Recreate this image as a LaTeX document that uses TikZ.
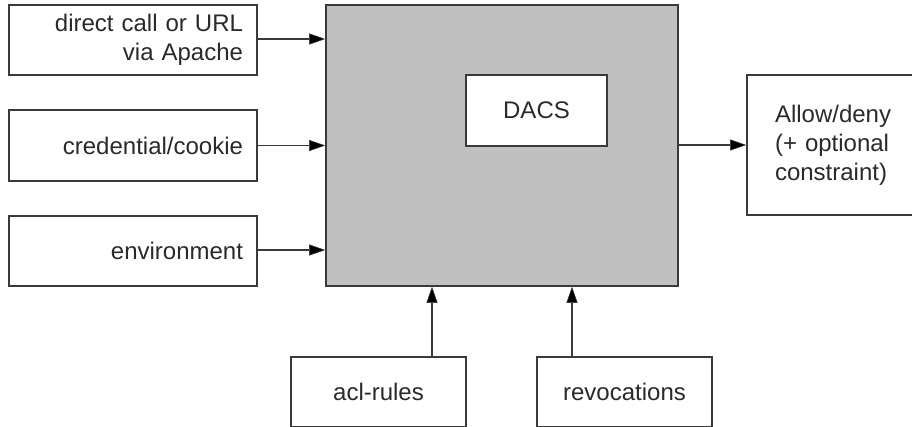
\documentclass[tikz,border=0pt]{standalone}
\usepackage{fontspec}
\setmainfont{Liberation Sans}
\usetikzlibrary{arrows.meta}
\definecolor{ink}{HTML}{2A2A2A}
\definecolor{edge}{HTML}{3A3A3A}
\definecolor{core}{HTML}{C0C0C0}
\begin{document}
\begin{tikzpicture}[x=1pt,y=-1pt,
  every node/.style={font=\fontsize{24}{29}\selectfont, text=ink},
  box/.style={draw=edge, line width=1.6pt, fill=white, inner sep=0pt, minimum height=70pt},
  rbox/.style={box, align=right, text width=220pt, inner xsep=14pt},
  arr/.style={draw=edge, line width=1.6pt, -{Triangle[length=16pt,width=11pt,fill=black,line width=0.5pt]}}]
\useasboundingbox (0,0) rectangle (912,427);
% big box
\node[box, fill=core, minimum width=352pt, minimum height=281pt] (dacsbig) at (502,145.5) {};
\node[box, minimum width=141pt, minimum height=71pt] (dacs) at (536.5,110.5) {DACS};
% inputs
\node[rbox] (direct) at (133,40) {direct call or URL\\via Apache};
\node[rbox, minimum height=71pt] (cred) at (133,145.5) {credential/cookie};
\node[rbox] (env) at (133,251) {environment};
% output
\node[box, align=left, text width=130pt, inner xsep=28pt, minimum height=140pt] (allow) at (840,145) {Allow/deny\\(+ optional\\constraint)};
% bottom inputs
\node[box, minimum width=175pt] (acl) at (378.5,392) {acl-rules};
\node[box, minimum width=175pt] (rev) at (624.5,392) {revocations};
\coordinate (ax) at (432,0);
\coordinate (rx) at (572,0);
% connectors
\draw[arr] ([yshift=1pt]direct.east) -- ([yshift=1pt]direct.east -| dacsbig.west);
\draw[arr] (cred.east) -- (cred.east -| dacsbig.west);
\draw[arr] ([yshift=1pt]env.east) -- ([yshift=1pt]env.east -| dacsbig.west);
\draw[arr] (dacsbig.east |- allow.west) -- (allow.west);
\draw[arr] (acl.north -| ax) -- (ax |- dacsbig.south);
\draw[arr] (rev.north -| rx) -- (rx |- dacsbig.south);
\end{tikzpicture}
\end{document}
